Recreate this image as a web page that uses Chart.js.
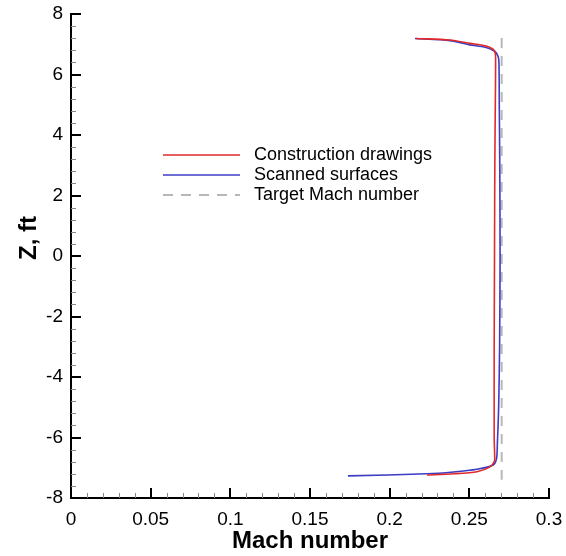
<!DOCTYPE html>
<html>
<head>
<meta charset="utf-8">
<script src="https://cdn.jsdelivr.net/npm/chart.js@4.4.1/dist/chart.umd.min.js"></script>
<style>
  html, body { margin: 0; padding: 0; background: #fff; }
  #wrap { width: 566px; height: 556px; }
</style>
</head>
<body>
<div id="wrap"><canvas id="machChart"></canvas></div>
<script>
// Mach number profile along Z (ft)
const constructionMach = [0.2165, 0.2379, 0.2504, 0.2600, 0.2649, 0.2662, 0.2665, 0.2663, 0.2660, 0.2658, 0.2656, 0.2656, 0.2659, 0.2658, 0.2630, 0.2548, 0.2400, 0.2234];
const constructionZ    = [7.19,   7.14,   7.03,   6.95,   6.84,   6.72,   6.50,   5.00,   3.00,   0.00,   -3.00,  -6.00,  -6.60,  -6.78,  -6.97,  -7.13,  -7.20,  -7.24];

const scannedMach = [0.2159, 0.2379, 0.2504, 0.2600, 0.2661, 0.2680, 0.2686, 0.2688, 0.2691, 0.2693, 0.2690, 0.2684, 0.2676, 0.2671, 0.2650, 0.2548, 0.2400, 0.2234, 0.1738];
const scannedZ    = [7.19,   7.12,   6.98,   6.90,   6.76,   6.60,   6.40,   5.00,   3.00,   0.00,   -3.00,  -5.00,  -6.20,  -6.69,  -6.91,  -7.05,  -7.14,  -7.20,  -7.27];

const targetMach = [0.2703, 0.2703];
const targetZ    = [7.21, -7.40];

const seriesLabels = ['Construction drawings', 'Scanned surfaces', 'Target Mach number'];
const xTickLabels = ['0', '0.05', '0.1', '0.15', '0.2', '0.25', '0.3'];
const yTickLabels = ['-8', '-6', '-4', '-2', '0', '2', '4', '6', '8'];

const FONT = "'Liberation Sans', Arial, Helvetica, sans-serif";

function toPoints(xs, ys) {
    return xs.map((x, i) => ({ x: x, y: ys[i] }));
}

// inward major / minor tick marks, drawn from the scales
const innerTicks = {
    id: 'innerTicks',
    afterDraw(chart) {
        const ctx = chart.ctx;
        const area = chart.chartArea;
        const xs = chart.scales.x;
        const ys = chart.scales.y;
        ctx.save();
        // minor ticks
        ctx.strokeStyle = '#888';
        ctx.lineWidth = 1;
        for (let i = 0; i <= 30; i++) {
            if (i % 5 === 0) continue;
            const px = Math.round(xs.getPixelForValue(i * 0.01)) + 0.5;
            ctx.beginPath();
            ctx.moveTo(px, area.bottom);
            ctx.lineTo(px, area.bottom - 5);
            ctx.stroke();
        }
        for (let i = 0; i <= 40; i++) {
            if (i % 5 === 0) continue;
            const py = Math.round(ys.getPixelForValue(-8 + i * 0.4)) + 0.5;
            ctx.beginPath();
            ctx.moveTo(area.left, py);
            ctx.lineTo(area.left + 5, py);
            ctx.stroke();
        }
        // major ticks
        ctx.strokeStyle = '#000';
        ctx.lineWidth = 2;
        xTickLabels.forEach(t => {
            const px = Math.round(xs.getPixelForValue(parseFloat(t)));
            ctx.beginPath();
            ctx.moveTo(px, area.bottom);
            ctx.lineTo(px, area.bottom - 10);
            ctx.stroke();
        });
        yTickLabels.forEach(t => {
            const py = Math.round(ys.getPixelForValue(parseFloat(t)));
            ctx.beginPath();
            ctx.moveTo(area.left, py);
            ctx.lineTo(area.left + 10, py);
            ctx.stroke();
        });
        ctx.restore();
    }
};

// legend drawn inside the plot, y-axis title placed by hand
const innerLegend = {
    id: 'innerLegend',
    afterDraw(chart, args, opts) {
        const ctx = chart.ctx;
        ctx.save();
        ctx.font = opts.font;
        ctx.textBaseline = 'middle';
        ctx.fillStyle = '#000';
        chart.data.datasets.forEach((ds, i) => {
            const y = opts.y + i * opts.spacing;
            ctx.strokeStyle = ds.borderColor;
            ctx.lineWidth = ds.borderWidth;
            ctx.setLineDash(ds.borderDash || []);
            ctx.beginPath();
            ctx.moveTo(opts.x, y);
            ctx.lineTo(opts.x + opts.lineLength, y);
            ctx.stroke();
            ctx.setLineDash([]);
            ctx.fillText(ds.label, opts.x + opts.lineLength + 14, y);
        });
        // y axis title
        ctx.translate(opts.yTitleX, opts.yTitleY);
        ctx.rotate(-Math.PI / 2);
        ctx.textAlign = 'center';
        ctx.font = opts.yTitleFont;
        ctx.fillText(opts.yTitle, 0, 0);
        ctx.restore();
    }
};

const ctx = document.getElementById('machChart').getContext('2d');

new Chart(ctx, {
    type: 'scatter',
    data: {
        datasets: [{
            label: seriesLabels[0],
            data: toPoints(constructionMach, constructionZ),
            showLine: true,
            borderColor: '#e02a2a',
            borderWidth: 1.6,
            pointRadius: 0,
            tension: 0.25
        }, {
            label: seriesLabels[1],
            data: toPoints(scannedMach, scannedZ),
            showLine: true,
            borderColor: '#3c3cc4',
            borderWidth: 1.6,
            pointRadius: 0,
            tension: 0.25
        }, {
            label: seriesLabels[2],
            data: toPoints(targetMach, targetZ),
            showLine: true,
            borderColor: '#b8b8b8',
            borderWidth: 2,
            borderDash: [10, 8],
            pointRadius: 0
        }]
    },
    options: {
        responsive: true,
        maintainAspectRatio: false,
        animation: false,
        layout: {
            padding: { left: 0, right: 17, top: 14, bottom: 0 }
        },
        plugins: {
            legend: { display: false },
            tooltip: { enabled: false },
            innerLegend: {
                x: 163,
                y: 155,
                spacing: 20,
                lineLength: 77,
                font: '18px ' + FONT,
                yTitle: 'Z, ft',
                yTitleX: 29,
                yTitleY: 238,
                yTitleFont: 'bold 24px ' + FONT
            }
        },
        scales: {
            x: {
                type: 'linear',
                min: 0,
                max: 0.3,
                afterFit: s => { s.height = 58; s.paddingLeft = 0; s.paddingRight = 0; },
                afterBuildTicks: s => {
                    s.ticks = xTickLabels.map(v => ({ value: parseFloat(v) }));
                },
                grid: { display: false, drawTicks: false },
                border: { display: true, color: '#000', width: 2 },
                ticks: {
                    color: '#000',
                    padding: 10,
                    maxRotation: 0,
                    font: { family: FONT, size: 19 },
                    callback: (v, i) => xTickLabels[i]
                },
                title: {
                    display: true,
                    text: 'Mach number',
                    color: '#000',
                    padding: { top: 0, bottom: 0 },
                    font: { family: FONT, size: 24, weight: 'bold' }
                }
            },
            y: {
                type: 'linear',
                min: -8,
                max: 8,
                afterFit: s => { s.width = 71; s.paddingTop = 0; s.paddingBottom = 0; },
                afterBuildTicks: s => {
                    s.ticks = yTickLabels.map(v => ({ value: parseFloat(v) }));
                },
                grid: { display: false, drawTicks: false },
                border: { display: true, color: '#000', width: 2 },
                ticks: {
                    color: '#000',
                    padding: 8,
                    font: { family: FONT, size: 19 },
                    callback: (v, i) => yTickLabels[i]
                }
            }
        }
    },
    plugins: [innerTicks, innerLegend]
});
</script>
</body>
</html>
